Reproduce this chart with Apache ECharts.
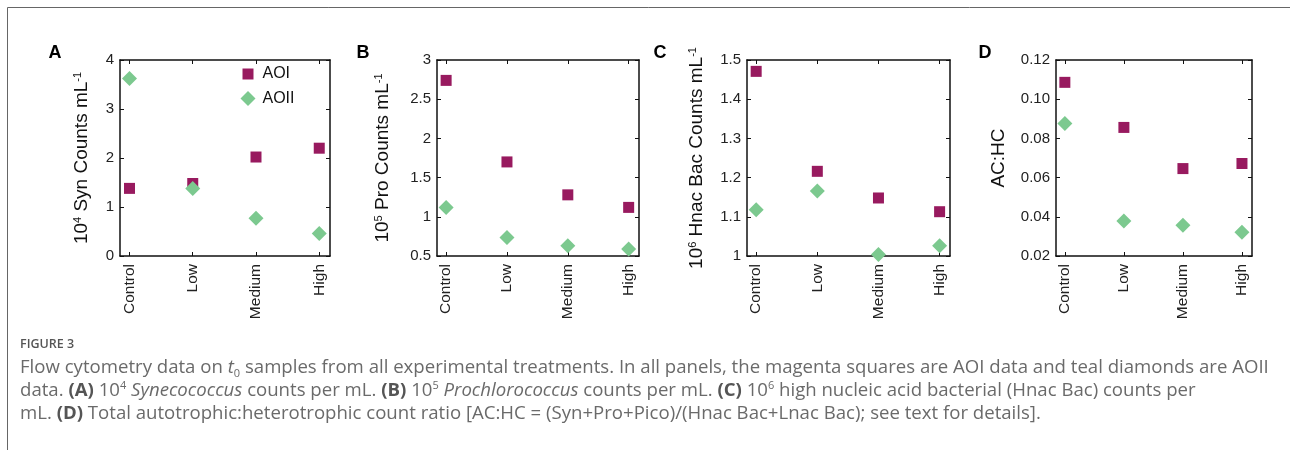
<!DOCTYPE html>
<html>
<head>
<meta charset="utf-8">
<script src="https://cdn.jsdelivr.net/npm/echarts@6/dist/echarts.min.js"></script>
<style>
  html, body { margin: 0; padding: 0; background: #fff; }
  #main { width: 1290px; height: 450px; }
</style>
</head>
<body>
<div id="main"></div>
<script>
// treatments on the x axis
const categories = ['Control', 'Low', 'Medium', 'High']

// (A) 10^4 Syn counts per mL
const synAOI = [1.38, 1.48, 2.02, 2.20]
const synAOII = [3.62, 1.38, 0.77, 0.46]
// (B) 10^5 Pro counts per mL
const proAOI = [2.74, 1.70, 1.28, 1.12]
const proAOII = [1.12, 0.735, 0.63, 0.59]
// (C) 10^6 Hnac Bac counts per mL
const hnacAOI = [1.471, 1.216, 1.148, 1.113]
const hnacAOII = [1.118, 1.166, 1.004, 1.026]
// (D) AC:HC ratio
const ratioAOI = [0.1086, 0.0856, 0.0646, 0.0672]
const ratioAOII = [0.0876, 0.0379, 0.0357, 0.0321]

// y ranges per panel [min, max, interval]
const synTicks = [0, 4, 1]
const proTicks = [0.5, 3, 0.5]
const hnacTicks = [1, 1.5, 0.1]
const ratioTicks = [0.02, 0.12, 0.02]

const magenta = '#981a5f'
const green = '#7cc98f'
const font = "'Liberation Sans', Arial, sans-serif"
const capFont = "'Open Sans', Lato, sans-serif"

const panels = [
  { label: 'A', labelX: 55, grid: { left: 120, top: 60, width: 210, height: 196 }, ticks: synTicks, aoi: synAOI, aoii: synAOII, name: '10{sup|4} Syn Counts mL{sup|-1}', gap: 29 },
  { label: 'B', labelX: 363, grid: { left: 437, top: 60, width: 202, height: 196 }, ticks: proTicks, aoi: proAOI, aoii: proAOII, name: '10{sup|5} Pro Counts mL{sup|-1}', gap: 45 },
  { label: 'C', labelX: 660, grid: { left: 747, top: 60, width: 203, height: 196 }, ticks: hnacTicks, aoi: hnacAOI, aoii: hnacAOII, name: '10{sup|6} Hnac Bac Counts mL{sup|-1}', gap: 41 },
  { label: 'D', labelX: 985, grid: { left: 1056, top: 60, width: 196, height: 196 }, ticks: ratioTicks, aoi: ratioAOI, aoii: ratioAOII, name: 'AC:HC', gap: 48, fixed: 2 }
]

const catIdx = categories.map((c, i) => i)
const lineStyle = { color: '#111', width: 1.5 }

const grid = []
const xAxis = []
const yAxis = []
const series = []
const graphic = []

panels.forEach((p, k) => {
  grid.push(Object.assign({ containLabel: false }, p.grid))
  // bottom and top x axes (top one only closes the box)
  ;['bottom', 'top'].forEach(pos => {
    xAxis.push({
      type: 'value',
      gridIndex: k,
      position: pos,
      min: -0.15,
      max: 3.17,
      splitLine: { show: false },
      axisLine: { show: true, onZero: false, lineStyle: lineStyle },
      axisTick: { show: true, inside: true, length: 4, customValues: catIdx, lineStyle: { color: '#111', width: 1 } },
      axisLabel: {
        show: pos === 'bottom',
        customValues: catIdx,
        rotate: 90,
        margin: 8,
        fontFamily: font,
        fontSize: 15.5,
        color: '#222',
        formatter: v => categories[Math.round(v)]
      }
    })
  })
  ;['left', 'right'].forEach(pos => {
    yAxis.push({
      type: 'value',
      gridIndex: k,
      position: pos,
      min: p.ticks[0],
      max: p.ticks[1],
      interval: p.ticks[2],
      splitLine: { show: false },
      axisLine: { show: true, onZero: false, lineStyle: lineStyle },
      axisTick: { show: true, inside: true, length: 4, lineStyle: { color: '#111', width: 1 } },
      axisLabel: {
        show: pos === 'left',
        margin: 6,
        fontFamily: font,
        fontSize: 15,
        color: '#222',
        formatter: v => p.fixed ? v.toFixed(p.fixed) : String(+v.toFixed(3))
      },
      name: pos === 'left' ? p.name : '',
      nameLocation: 'middle',
      nameGap: p.gap,
      nameMoveOverlap: false,
      nameTextStyle: {
        fontFamily: font,
        fontSize: 19,
        color: '#111',
        rich: {
          sup: { fontFamily: font, fontSize: 11, color: '#111', verticalAlign: 'top', lineHeight: 12 }
        }
      }
    })
  })
  series.push({
    name: 'AOI',
    type: 'scatter',
    xAxisIndex: k * 2,
    yAxisIndex: k * 2,
    symbol: 'rect',
    symbolSize: 11,
    itemStyle: { color: magenta, opacity: 1 },
    data: p.aoi.map((v, i) => [i, v])
  })
  series.push({
    name: 'AOII',
    type: 'scatter',
    xAxisIndex: k * 2,
    yAxisIndex: k * 2,
    symbol: 'diamond',
    symbolSize: 15,
    itemStyle: { color: green, opacity: 1 },
    data: p.aoii.map((v, i) => [i, v])
  })
  graphic.push({
    type: 'text',
    x: p.labelX,
    y: 53,
    style: { text: p.label, font: 'bold 18px ' + font, fill: '#000', align: 'center', verticalAlign: 'middle' }
  })
})

// figure frame and caption
graphic.push({ type: 'line', shape: { x1: 7.5, y1: 7.5, x2: 1290, y2: 7.5 }, style: { stroke: '#666', lineWidth: 1 } })
graphic.push({ type: 'line', shape: { x1: 7.5, y1: 7.5, x2: 7.5, y2: 450 }, style: { stroke: '#666', lineWidth: 1 } })

const capSize = 18.6
const capRich = {
  i: { fontStyle: 'italic', fontFamily: capFont, fontSize: capSize, fill: '#6a6a6a' },
  b: { fontWeight: 'bold', fontFamily: capFont, fontSize: capSize, fill: '#555' },
  sup: { fontFamily: capFont, fontSize: 11, fill: '#6a6a6a', verticalAlign: 'top', lineHeight: 11 },
  sub: { fontFamily: capFont, fontSize: 11, fill: '#6a6a6a', verticalAlign: 'bottom', lineHeight: 11 }
}
const capLines = [
  'Flow cytometry data on {i|t}{sub|0} samples from all experimental treatments. In all panels, the magenta squares are AOI data and teal diamonds are AOII',
  'data. {b|(A)} 10{sup|4} {i|Synecococcus} counts per mL. {b|(B)} 10{sup|5} {i|Prochlorococcus} counts per mL. {b|(C)} 10{sup|6} high nucleic acid bacterial (Hnac Bac) counts per',
  'mL. {b|(D)} Total autotrophic:heterotrophic count ratio [AC:HC = (Syn+Pro+Pico)/(Hnac Bac+Lnac Bac); see text for details].'
]
graphic.push({
  type: 'text',
  x: 20,
  y: 344,
  style: { text: 'FIGURE 3', font: '600 12.5px ' + capFont, fill: '#555', verticalAlign: 'middle' }
})
capLines.forEach((t, i) => {
  graphic.push({
    type: 'text',
    x: 20,
    y: 368 + i * 23,
    style: { text: t, rich: capRich, font: capSize + 'px ' + capFont, fill: '#6a6a6a', verticalAlign: 'middle', lineHeight: 22 }
  })
})

const myChart = echarts.init(document.getElementById('main'))
myChart.setOption({
  animation: false,
  backgroundColor: '#fff',
  grid: grid,
  xAxis: xAxis,
  yAxis: yAxis,
  legend: [
    {
      data: [{ name: 'AOI', icon: 'rect' }],
      left: 242.5,
      top: 66,
      padding: 0,
      itemWidth: 11,
      itemHeight: 11,
      selectedMode: false,
      textStyle: { fontFamily: font, fontSize: 16, color: '#111', padding: [0, 0, 0, 4] }
    },
    {
      data: [{ name: 'AOII', icon: 'diamond' }],
      left: 240.5,
      top: 90.5,
      padding: 0,
      itemWidth: 15,
      itemHeight: 15,
      selectedMode: false,
      textStyle: { fontFamily: font, fontSize: 16, color: '#111', padding: [0, 0, 0, 2] }
    }
  ],
  series: series,
  graphic: graphic
})
</script>
</body>
</html>
